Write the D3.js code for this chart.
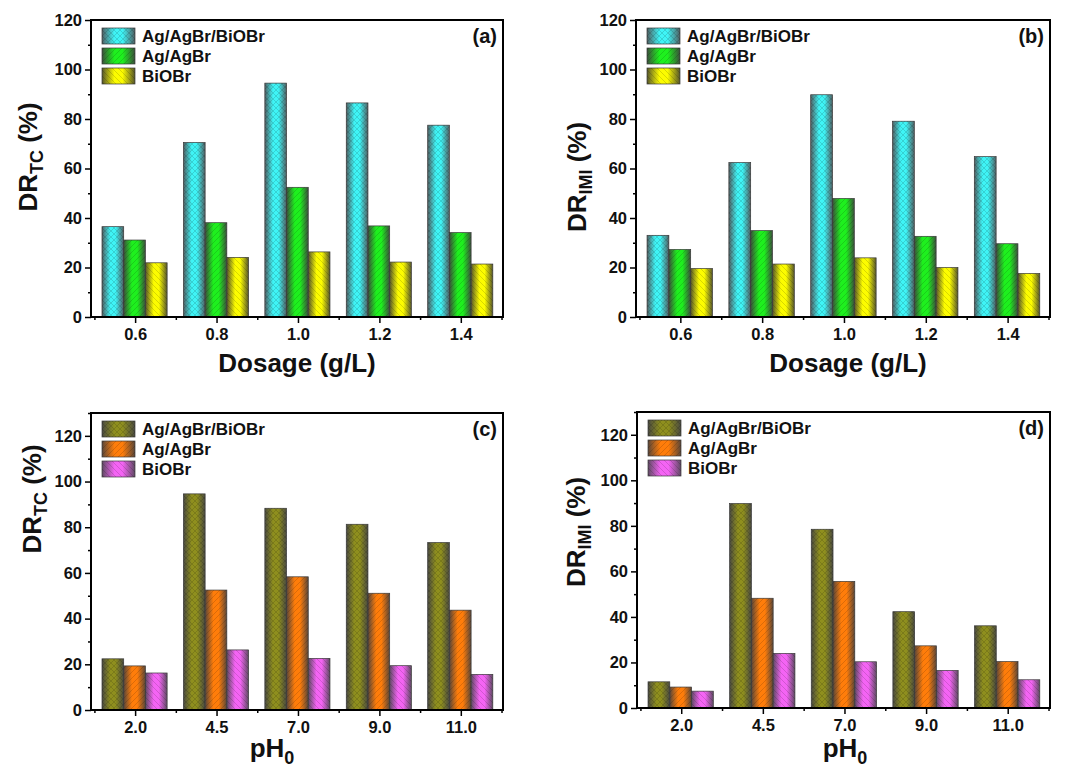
<!DOCTYPE html>
<html>
<head>
<meta charset="utf-8">
<script src="https://cdn.jsdelivr.net/npm/d3@7"></script>
<style>
  body { margin: 0; background: #fff; }
  svg { display: block; font-family: "Liberation Sans", Arial, sans-serif; font-weight: bold; }
</style>
</head>
<body>
<div id="chart"></div>
<script>
// legend / series names
const seriesNames = ["Ag/AgBr/BiOBr", "Ag/AgBr", "BiOBr"];

// x categories
const dosageLabels = ["0.6", "0.8", "1.0", "1.2", "1.4"];
const phLabels = ["2.0", "4.5", "7.0", "9.0", "11.0"];

// (a) DR_TC vs dosage
const dosageTcComposite = [36.5, 70.5, 94.5, 86.5, 77.5];
const dosageTcAgAgBr = [31.1, 38.1, 52.4, 36.8, 34.1];
const dosageTcBiOBr = [21.9, 24.1, 26.3, 22.2, 21.4];

// (b) DR_IMI vs dosage
const dosageImiComposite = [33.0, 62.4, 89.8, 79.1, 64.8];
const dosageImiAgAgBr = [27.3, 34.9, 47.9, 32.6, 29.6];
const dosageImiBiOBr = [19.6, 21.4, 23.9, 20.0, 17.6];

// (c) DR_TC vs pH0
const phTcComposite = [22.4, 94.6, 88.3, 81.3, 73.3];
const phTcAgAgBr = [19.3, 52.5, 58.3, 51.1, 43.7];
const phTcBiOBr = [16.2, 26.3, 22.6, 19.4, 15.6];

// (d) DR_IMI vs pH0
const phImiComposite = [11.5, 89.8, 78.5, 42.3, 36.1];
const phImiAgAgBr = [9.2, 48.2, 55.6, 27.3, 20.4];
const phImiBiOBr = [7.4, 24.0, 20.3, 16.5, 12.4];

const width = 1069;
const height = 778;
const font = '"Liberation Sans", Arial, sans-serif';

const svg = d3.select("#chart")
  .append("svg")
  .attr("width", width)
  .attr("height", height)
  .attr("viewBox", [0, 0, width, height]);

const defs = svg.append("defs");

// colour + hatch for each bar style
const styles = {
  cyan:   { color: "#3ff4f6", edge: "#4f5f62", hatch: "cross" },
  green:  { color: "#1ef01e", edge: "#3b4f3b", hatch: "fwd" },
  yellow: { color: "#fcfc00", edge: "#55552a", hatch: "back" },
  olive:  { color: "#8f8f1e", edge: "#4a4a40", hatch: "cross" },
  orange: { color: "#ff7d0a", edge: "#5a4638", hatch: "fwd" },
  pink:   { color: "#f464f4", edge: "#5e4a62", hatch: "back" },
};

Object.entries(styles).forEach(([key, s]) => {
  const grad = defs.append("linearGradient")
    .attr("id", `grad-${key}`)
    .attr("x1", "0%").attr("x2", "100%")
    .attr("y1", "0%").attr("y2", "0%");
  grad.append("stop").attr("offset", "0%").attr("stop-color", s.edge);
  grad.append("stop").attr("offset", "38%").attr("stop-color", s.color);
  grad.append("stop").attr("offset", "62%").attr("stop-color", s.color);
  grad.append("stop").attr("offset", "100%").attr("stop-color", s.edge);
});

const hatchPaths = {
  fwd: "M0,6 L6,0 M-1,1 L1,-1 M5,7 L7,5",
  back: "M0,0 L6,6 M-1,5 L1,7 M5,-1 L7,1",
  cross: "M0,6 L6,0 M-1,1 L1,-1 M5,7 L7,5 M0,0 L6,6 M-1,5 L1,7 M5,-1 L7,1",
};
Object.entries(hatchPaths).forEach(([key, d]) => {
  defs.append("pattern")
    .attr("id", `hatch-${key}`)
    .attr("patternUnits", "userSpaceOnUse")
    .attr("width", 6)
    .attr("height", 6)
    .append("path")
    .attr("d", d)
    .attr("stroke", "rgba(0,0,0,0.18)")
    .attr("stroke-width", 0.8);
});

const panels = [
  {
    label: "(a)", left: 91, right: 503, top: 20, bottom: 317, yMax: 120,
    categories: dosageLabels,
    values: [dosageTcComposite, dosageTcAgAgBr, dosageTcBiOBr],
    styleKeys: ["cyan", "green", "yellow"],
    sub: "TC", yTitleX: 37, yTitleY: 157,
    xTitle: "Dosage (g/L)", xTitleX: 297, xTitleY: 372,
  },
  {
    label: "(b)", left: 636, right: 1050, top: 20, bottom: 317, yMax: 120,
    categories: dosageLabels,
    values: [dosageImiComposite, dosageImiAgAgBr, dosageImiBiOBr],
    styleKeys: ["cyan", "green", "yellow"],
    sub: "IMI", yTitleX: 586, yTitleY: 177,
    xTitle: "Dosage (g/L)", xTitleX: 848, xTitleY: 372,
  },
  {
    label: "(c)", left: 91, right: 503, top: 413, bottom: 710, yMax: 130,
    categories: phLabels,
    values: [phTcComposite, phTcAgAgBr, phTcBiOBr],
    styleKeys: ["olive", "orange", "pink"],
    sub: "TC", yTitleX: 41, yTitleY: 499,
    xTitle: "pH", xSub: "0", xTitleX: 272, xTitleY: 757,
  },
  {
    label: "(d)", left: 637, right: 1050, top: 412, bottom: 708, yMax: 130,
    categories: phLabels,
    values: [phImiComposite, phImiAgAgBr, phImiBiOBr],
    styleKeys: ["olive", "orange", "pink"],
    sub: "IMI", yTitleX: 585, yTitleY: 532,
    xTitle: "pH", xSub: "0", xTitleX: 845, xTitleY: 757,
  },
];

const styleTicks = (axis) => {
  axis.select(".domain").remove();
  axis.selectAll("line").attr("stroke", "#000").attr("stroke-width", 1.5);
  axis.selectAll("text")
    .attr("font-size", 16.5)
    .attr("font-family", font)
    .attr("font-weight", "bold")
    .attr("fill", "#111");
};

const drawPanel = (p) => {
  const g = svg.append("g");

  const x = d3.scaleBand()
    .domain(p.categories)
    .range([p.left, p.right])
    .paddingInner(0)
    .paddingOuter(0.03)
    .align(0.8);
  const step = x.step();

  const xs = d3.scaleBand()
    .domain(seriesNames)
    .range([0.087 * step, 0.887 * step])
    .padding(0);

  const y = d3.scaleLinear()
    .domain([0, p.yMax])
    .range([p.bottom, p.top]);

  // bars
  const rows = p.categories.flatMap((cat, i) =>
    seriesNames.map((name, s) => ({ cat, name, s, value: p.values[s][i] })),
  );

  const bars = g.append("g")
    .selectAll("g")
    .data(rows)
    .join("g");

  bars.append("rect")
    .attr("x", (d) => x(d.cat) + xs(d.name))
    .attr("y", (d) => y(d.value))
    .attr("width", xs.bandwidth())
    .attr("height", (d) => y(0) - y(d.value))
    .attr("fill", (d) => `url(#grad-${p.styleKeys[d.s]})`)
    .attr("stroke", "#3a3a3a")
    .attr("stroke-width", 0.7);

  bars.append("rect")
    .attr("x", (d) => x(d.cat) + xs(d.name))
    .attr("y", (d) => y(d.value))
    .attr("width", xs.bandwidth())
    .attr("height", (d) => y(0) - y(d.value))
    .attr("fill", (d) => `url(#hatch-${styles[p.styleKeys[d.s]].hatch})`);

  // y axis, major + minor
  g.append("g")
    .attr("transform", `translate(${p.left},0)`)
    .call(d3.axisLeft(y)
      .tickValues(d3.range(0, 121, 20))
      .tickSize(6)
      .tickPadding(3))
    .call(styleTicks);

  g.append("g")
    .attr("transform", `translate(${p.left},0)`)
    .call(d3.axisLeft(y)
      .tickValues(d3.range(10, p.yMax + 1, 20))
      .tickSize(3)
      .tickFormat(""))
    .call(styleTicks);

  // x axis, major ticks at category centres
  g.append("g")
    .attr("transform", `translate(0,${p.bottom})`)
    .call(d3.axisBottom(x).tickSize(6).tickPadding(5))
    .call(styleTicks);

  // minor ticks at category boundaries
  const edges = [...p.categories.map((c) => x(c)), x(p.categories[p.categories.length - 1]) + step];
  g.append("g")
    .selectAll("line")
    .data(edges)
    .join("line")
    .attr("x1", (d) => d)
    .attr("x2", (d) => d)
    .attr("y1", p.bottom)
    .attr("y2", p.bottom + 3)
    .attr("stroke", "#000")
    .attr("stroke-width", 1.5);

  // frame
  g.append("rect")
    .attr("x", p.left)
    .attr("y", p.top)
    .attr("width", p.right - p.left)
    .attr("height", p.bottom - p.top)
    .attr("fill", "none")
    .attr("stroke", "#000")
    .attr("stroke-width", 2);

  // legend
  const legend = g.append("g")
    .selectAll("g")
    .data(seriesNames)
    .join("g")
    .attr("transform", (d, i) => `translate(${p.left + 11},${p.top + 16 + i * 20})`);
  legend.append("rect")
    .attr("x", 0).attr("y", -8)
    .attr("width", 33).attr("height", 16)
    .attr("fill", (d, i) => `url(#grad-${p.styleKeys[i]})`)
    .attr("stroke", "#3a3a3a")
    .attr("stroke-width", 0.7);
  legend.append("rect")
    .attr("x", 0).attr("y", -8)
    .attr("width", 33).attr("height", 16)
    .attr("fill", (d, i) => `url(#hatch-${styles[p.styleKeys[i]].hatch})`);
  legend.append("text")
    .attr("x", 40)
    .attr("dy", "0.36em")
    .attr("font-size", 17)
    .attr("fill", "#111")
    .text((d) => d);

  // panel letter
  g.append("text")
    .attr("x", p.right - 6)
    .attr("y", p.top + 23)
    .attr("text-anchor", "end")
    .attr("font-size", 20)
    .attr("fill", "#111")
    .text(p.label);

  // y title
  const yt = g.append("text")
    .attr("transform", `translate(${p.yTitleX},${p.yTitleY}) rotate(-90)`)
    .attr("text-anchor", "middle")
    .attr("font-size", 26)
    .attr("fill", "#111");
  yt.append("tspan").text("DR");
  yt.append("tspan").attr("font-size", 18).attr("dy", 6).text(p.sub);
  yt.append("tspan").attr("dy", -6).text(" (%)");

  // x title
  const xt = g.append("text")
    .attr("x", p.xTitleX)
    .attr("y", p.xTitleY)
    .attr("text-anchor", "middle")
    .attr("font-size", 26)
    .attr("fill", "#111");
  xt.append("tspan").text(p.xTitle);
  if (p.xSub) {
    xt.append("tspan").attr("font-size", 18).attr("dy", 7).text(p.xSub);
  }
};

panels.forEach(drawPanel);
</script>
</body>
</html>
